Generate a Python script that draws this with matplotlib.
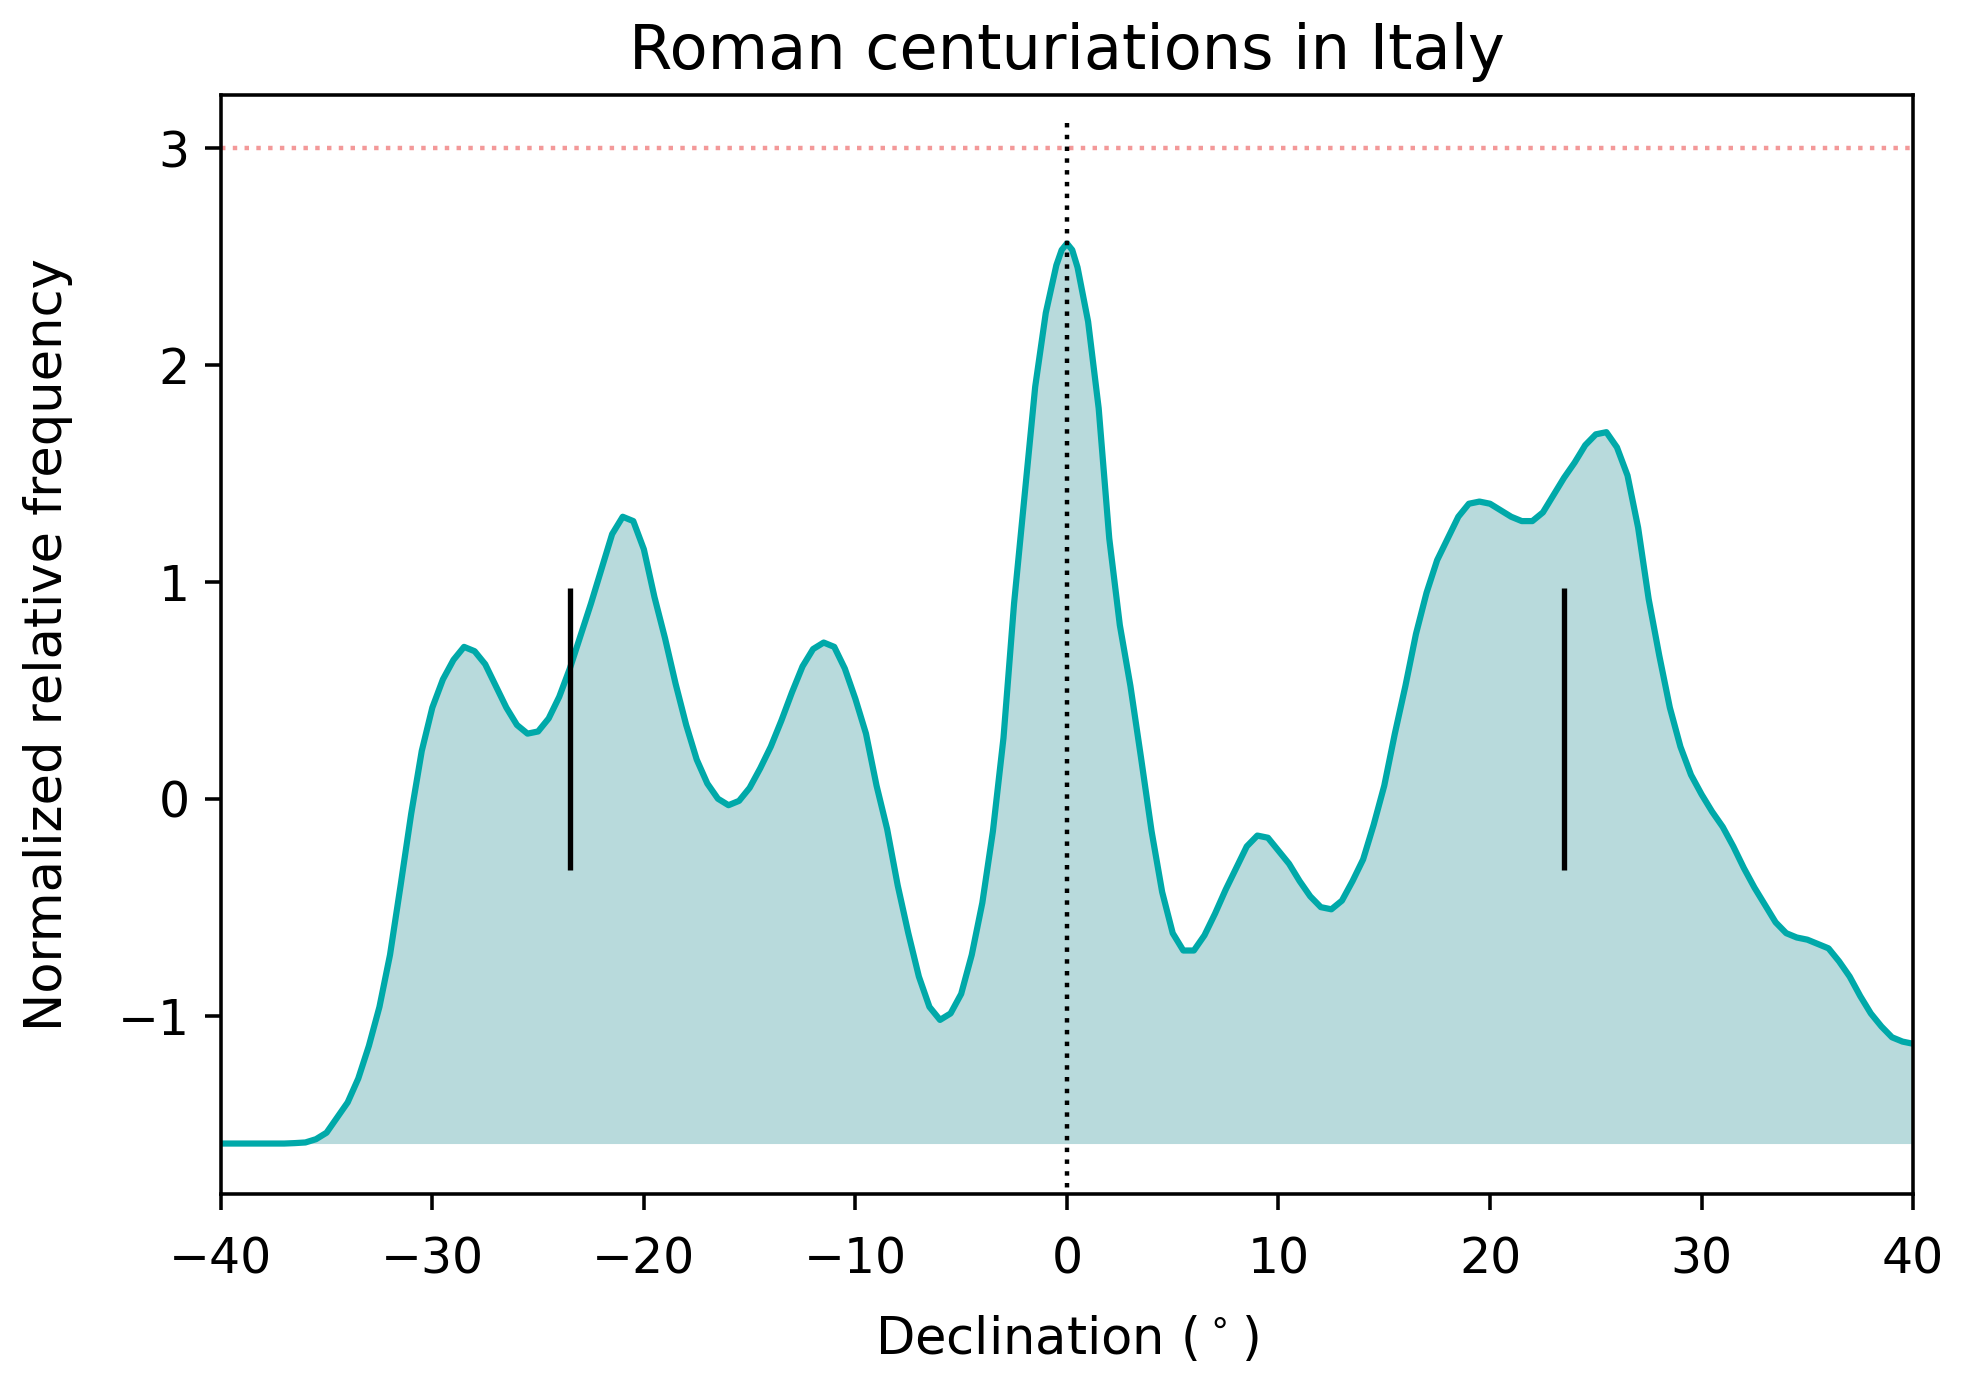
import matplotlib
matplotlib.use("Agg")
import matplotlib.pyplot as plt

# Data
declination = [-40, -39, -38, -37, -36.5, -36, -35.5, -35, -34.5, -34, -33.5, -33, -32.5, -32,
               -31.5, -31, -30.5, -30, -29.5, -29, -28.5, -28, -27.5, -27, -26.5, -26, -25.5,
               -25, -24.5, -24, -23.5, -23, -22.5, -22, -21.5, -21, -20.5, -20, -19.5, -19,
               -18.5, -18, -17.5, -17, -16.5, -16, -15.5, -15, -14.5, -14, -13.5, -13, -12.5,
               -12, -11.5, -11, -10.5, -10, -9.5, -9, -8.5, -8, -7.5, -7, -6.5, -6, -5.5, -5,
               -4.5, -4, -3.5, -3, -2.5, -2, -1.5, -1, -0.5, -0.25, 0, 0.25, 0.5, 1, 1.5, 2,
               2.5, 3, 3.5, 4,
               4.5, 5, 5.5, 6, 6.5, 7, 7.5, 8, 8.5, 9, 9.5, 10, 10.5, 11, 11.5, 12, 12.5, 13,
               13.5, 14, 14.5, 15, 15.5, 16, 16.5, 17, 17.5, 18, 18.5, 19, 19.5, 20, 20.5, 21,
               21.5, 22, 22.5, 23, 23.5, 24, 24.5, 25, 25.5, 26, 26.5, 27, 27.5, 28, 28.5, 29,
               29.5, 30, 30.5, 31, 31.5, 32, 32.5, 33, 33.5, 34, 34.5, 35, 35.5, 36, 36.5, 37,
               37.5, 38, 38.5, 39, 39.5, 40]
frequency = [-1.59, -1.59, -1.59, -1.59, -1.588, -1.585, -1.57, -1.54, -1.47, -1.40, -1.29,
             -1.14, -0.96, -0.72, -0.40, -0.07, 0.22, 0.42, 0.55, 0.64, 0.70, 0.68, 0.62, 0.52,
             0.42, 0.34, 0.30, 0.31, 0.37, 0.47, 0.60, 0.75, 0.90, 1.06, 1.22, 1.30, 1.28,
             1.15, 0.93, 0.74, 0.53, 0.34, 0.18, 0.07, 0.00, -0.03, -0.01, 0.05, 0.14, 0.24,
             0.36, 0.49, 0.61, 0.69, 0.72, 0.70, 0.60, 0.46, 0.30, 0.06, -0.14, -0.40, -0.62,
             -0.82, -0.96, -1.02, -0.99, -0.90, -0.72, -0.48, -0.15, 0.28, 0.90, 1.40, 1.90,
             2.24, 2.46, 2.53, 2.56, 2.53, 2.45, 2.20, 1.80, 1.20, 0.80, 0.52, 0.19, -0.15,
             -0.43, -0.62,
             -0.70, -0.70, -0.63, -0.53, -0.42, -0.32, -0.22, -0.17, -0.18, -0.24, -0.30,
             -0.38, -0.45, -0.50, -0.51, -0.47, -0.38, -0.28, -0.12, 0.06, 0.30, 0.52, 0.76,
             0.95, 1.10, 1.20, 1.30, 1.36, 1.37, 1.36, 1.33, 1.30, 1.28, 1.28, 1.32, 1.40,
             1.48, 1.55, 1.63, 1.68, 1.69, 1.62, 1.49, 1.25, 0.92, 0.66, 0.42, 0.24, 0.11,
             0.02, -0.06, -0.13, -0.22, -0.32, -0.41, -0.49, -0.57, -0.62, -0.64, -0.65,
             -0.67, -0.69, -0.75, -0.82, -0.91, -0.99, -1.05, -1.10, -1.12, -1.13]
baseline = -1.59
solstice_dec = [-23.5, 23.5]
solstice_span = [-0.33, 0.97]
threshold = 3
peak_dec = 0
xticks = [-40, -30, -20, -10, 0, 10, 20, 30, 40]
yticks = [-1, 0, 1, 2, 3]

fig = plt.figure(figsize=(1966 / 320, 1392 / 320), dpi=320)
ax = fig.add_axes([0.1123, 0.1425, 0.8608, 0.789])

ax.fill_between(declination, baseline, frequency, color="#b8dadc", linewidth=0)
ax.plot(declination, frequency, color="#00a9a9", linewidth=1.4,
        solid_joinstyle="round", solid_capstyle="round")
ax.axhline(threshold, color="#f08080", linestyle=":", linewidth=1.0, alpha=0.8)
ax.vlines(solstice_dec, solstice_span[0], solstice_span[1], color="black", linewidth=1.2)
ax.vlines(peak_dec, -1.9, 3.13, color="black", linestyle=":", linewidth=1.0)

ax.set_xlim(-40, 40)
ax.set_ylim(-1.821, 3.243)
ax.set_xticks(xticks)
ax.set_yticks(yticks)
ax.tick_params(labelsize=11)
ax.tick_params(axis="x", pad=6)
ax.set_xlabel("Declination ($\\,^{\\circ}\\,$)", fontsize=11.5, labelpad=7)
ax.set_ylabel("Normalized relative frequency", fontsize=11.5, labelpad=10)
ax.set_title("Roman centuriations in Italy", fontsize=14, pad=6)

fig.savefig("out.png", dpi=320)
